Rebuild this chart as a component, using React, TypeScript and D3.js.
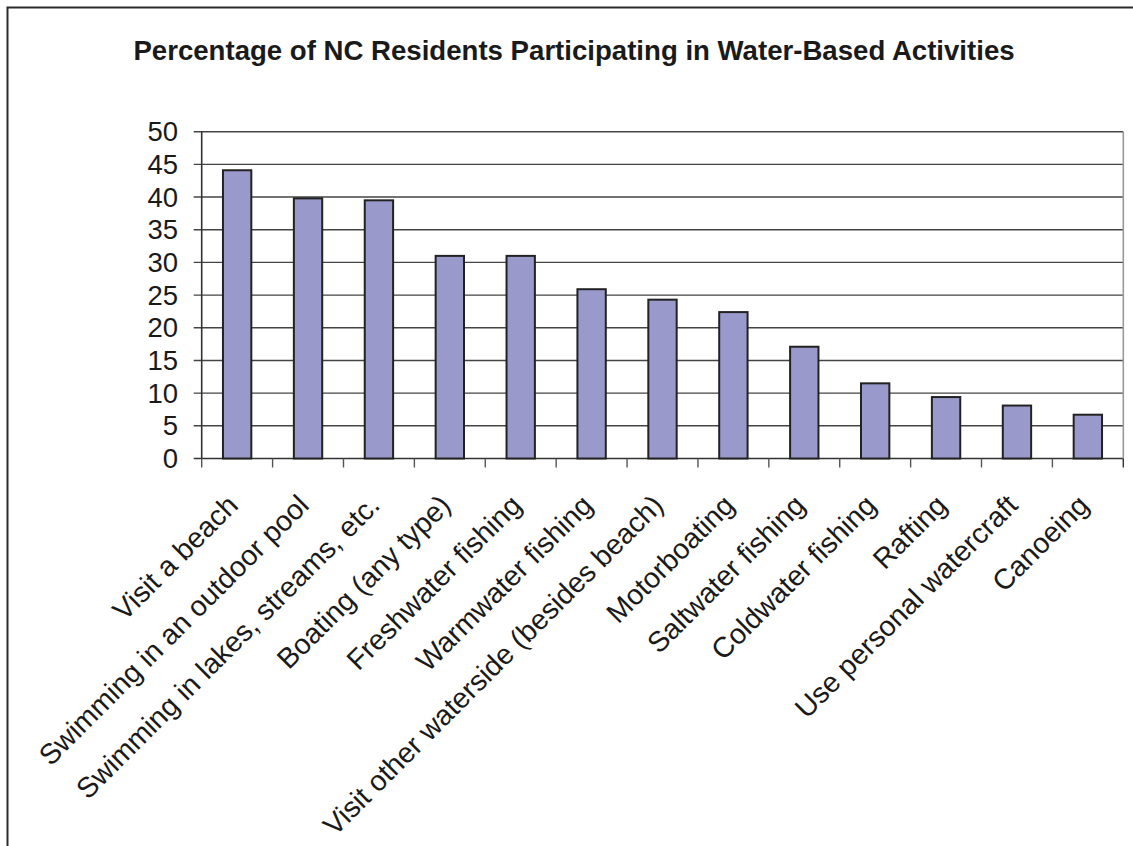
import React from "react";
import * as d3 from "d3";

const categories: string[] = [
  "Visit a beach",
  "Swimming in an outdoor pool",
  "Swimming in lakes, streams, etc.",
  "Boating (any type)",
  "Freshwater fishing",
  "Warmwater fishing",
  "Visit other waterside (besides beach)",
  "Motorboating",
  "Saltwater fishing",
  "Coldwater fishing",
  "Rafting",
  "Use personal watercraft",
  "Canoeing",
];

const values: number[] = [44.1, 39.8, 39.5, 31.0, 31.0, 25.9, 24.3, 22.4, 17.1, 11.5, 9.4, 8.1, 6.7];

const yTicks: number[] = [0, 5, 10, 15, 20, 25, 30, 35, 40, 45, 50];

const title = "Percentage of NC Residents Participating in Water-Based Activities";

const W = 1133;
const H = 846;
const plotLeft = 201.7;
const plotRight = 1123.3;
const plotTop = 131.7;
const plotBottom = 458.5;
const FONT = "'Liberation Sans', Arial, Helvetica, sans-serif";

export default function App() {
  const x = d3.scaleBand<string>().domain(categories).range([plotLeft, plotRight]).paddingInner(0.6).paddingOuter(0.3);
  const xOuter = d3.scaleBand<string>().domain(categories).range([plotLeft, plotRight]);
  const y = d3.scaleLinear().domain([0, 50]).range([plotBottom, plotTop]);

  return (
    <svg
      width={W}
      height={H}
      style={{ position: "absolute", left: 0, top: 0, background: "#fff" }}
      fontFamily={FONT}
    >
      <rect x={0} y={0} width={W} height={H} fill="#fff" />
      {/* outer chart border */}
      <rect x={7.5} y={7.5} width={1200} height={900} fill="none" stroke="#2a2a2a" strokeWidth={2} />

      <text x={574} y={60} textAnchor="middle" fontSize={27.6} fontWeight="bold" fill="#1a1a1a">
        {title}
      </text>

      {/* gridlines */}
      {yTicks.map((t) => (
        <g key={"g" + t}>
          <line
            x1={plotLeft - 8}
            x2={plotRight}
            y1={y(t)}
            y2={y(t)}
            stroke={t === 0 ? "#333" : "#444"}
            strokeWidth={1.4}
          />
          <text
            x={178}
            y={y(t)}
            dy="0.35em"
            textAnchor="end"
            fontSize={27.5}
            fill="#1a1a1a"
          >
            {t}
          </text>
        </g>
      ))}

      {/* plot right border */}
      <line x1={plotRight} x2={plotRight} y1={plotTop} y2={plotBottom} stroke="#999" strokeWidth={1.6} />

      {/* bars */}
      {categories.map((c, i) => (
        <rect
          key={c}
          x={x(c)}
          y={y(values[i])}
          width={x.bandwidth()}
          height={plotBottom - y(values[i])}
          fill="#9999CC"
          stroke="#222"
          strokeWidth={2}
        />
      ))}

      {/* y axis line */}
      <line x1={plotLeft} x2={plotLeft} y1={plotTop} y2={plotBottom} stroke="#333" strokeWidth={1.6} />

      {/* x ticks */}
      {categories.map((c) => (
        <line
          key={"t" + c}
          x1={xOuter(c)}
          x2={xOuter(c)}
          y1={plotBottom}
          y2={plotBottom + 9}
          stroke="#555"
          strokeWidth={1.4}
        />
      ))}
      <line x1={plotRight} x2={plotRight} y1={plotBottom} y2={plotBottom + 9} stroke="#333" strokeWidth={1.4} />

      {/* x labels */}
      {categories.map((c) => {
        const cx = (xOuter(c) as number) + xOuter.bandwidth() / 2 + 2.5;
        const cy = 507;
        return (
          <text
            key={"l" + c}
            x={cx}
            y={cy}
            transform={`rotate(-45 ${cx} ${cy})`}
            textAnchor="end"
            fontSize={28.5}
            fill="#1a1a1a"
          >
            {c}
          </text>
        );
      })}
    </svg>
  );
}
